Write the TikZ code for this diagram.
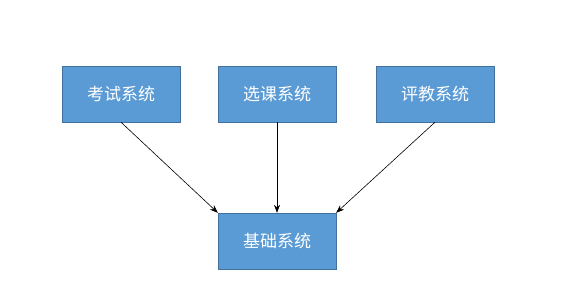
\documentclass[tikz,border=0pt]{standalone}
\usepackage{fontspec}
\newfontfamily\cjk{Noto Sans CJK SC}
\usetikzlibrary{arrows.meta}
\definecolor{boxfill}{HTML}{5B9BD5}
\definecolor{boxline}{HTML}{41719C}

\begin{document}
\begin{tikzpicture}[x=1pt,y=-1pt,
    sysbox/.style={draw=boxline,fill=boxfill,minimum width=118pt,minimum height=56pt,
        inner sep=0pt,text=white,font=\cjk\fontsize{17}{20}\selectfont},
    link/.style={-{Stealth[length=8pt,width=6pt]},line width=0.6pt}]
    \useasboundingbox (0,0) rectangle (570,300);
    \node[sysbox] (kaoshi) at (121,94) {考试系统};
    \node[sysbox] (xuanke) at (277,94) {选课系统};
    \node[sysbox] (pingjiao) at (435,94) {评教系统};
    \node[sysbox] (jichu) at (277,241) {基础系统};
    \draw[link] (kaoshi.south) -- (jichu.north west);
    \draw[link] (xuanke.south) -- (jichu.north);
    \draw[link] (pingjiao.south) -- (jichu.north east);
\end{tikzpicture}
\end{document}
